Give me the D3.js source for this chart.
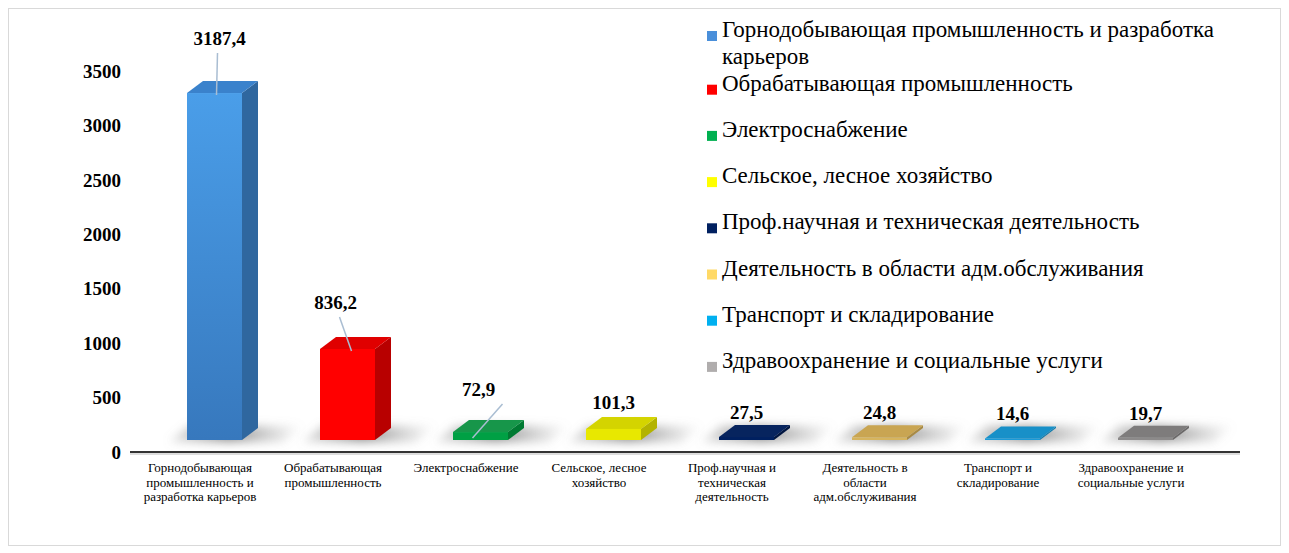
<!DOCTYPE html>
<html>
<head>
<meta charset="utf-8">
<script src="https://cdn.jsdelivr.net/npm/d3@7"></script>
<style>
  body { margin: 0; background: #fff; }
  svg { display: block; }
  text { font-family: "Liberation Serif", "Times New Roman", serif; fill: #000; }
</style>
</head>
<body>
<div id="chart"></div>
<script>
// categories (also used as legend entries)
var categories = [
    "Горнодобывающая промышленность и разработка карьеров",
    "Обрабатывающая промышленность",
    "Электроснабжение",
    "Сельское, лесное  хозяйство",
    "Проф.научная и техническая деятельность",
    "Деятельность в области адм.обслуживания",
    "Транспорт и складирование",
    "Здравоохранение и социальные услуги"
];
// values
var values = [3187.4, 836.2, 72.9, 101.3, 27.5, 24.8, 14.6, 19.7];
var yTicks = [0, 500, 1000, 1500, 2000, 2500, 3000, 3500];

// legend swatch colours and 3D bar shades
var legendColors = ["#4a8fda", "#ff0000", "#00b050", "#ffff00", "#002060", "#ffd966", "#00b0f0", "#b0adad"];
var frontColors = ["#4496e2", "#ff0000", "#00a044", "#e8e800", "#002060", "#d6b45e", "#1a9ad8", "#8c8a8a"];
var sideColors  = ["#2f679f", "#b80000", "#007a32", "#b3b300", "#001540", "#a88a44", "#117aaa", "#6a6868"];
var topColors   = ["#3a82cc", "#e00000", "#17964a", "#d4d400", "#07245e", "#c9a552", "#1890c8", "#7e7c7c"];

var width = 1289, height = 553;
var depthX = 16, depthY = 12;   // pseudo-3D offset
var barW = 55;

var svg = d3.select("#chart").append("svg")
    .attr("width", width)
    .attr("height", height);

var defs = svg.append("defs");
defs.append("filter").attr("id", "blur")
    .attr("x", "-50%").attr("y", "-100%").attr("width", "200%").attr("height", "300%")
    .append("feGaussianBlur").attr("stdDeviation", 5);
var grad = defs.append("linearGradient").attr("id", "g0")
    .attr("x1", 0).attr("y1", 0).attr("x2", 0).attr("y2", 1);
grad.append("stop").attr("offset", "0%").attr("stop-color", "#4a9ee9");
grad.append("stop").attr("offset", "100%").attr("stop-color", "#3778bd");
var shGrad = defs.append("linearGradient").attr("id", "sh")
    .attr("x1", 0).attr("y1", 0).attr("x2", 1).attr("y2", 0);
shGrad.append("stop").attr("offset", "0%").attr("stop-color", "#888").attr("stop-opacity", 0.2);
shGrad.append("stop").attr("offset", "45%").attr("stop-color", "#777").attr("stop-opacity", 0.8);
shGrad.append("stop").attr("offset", "100%").attr("stop-color", "#999").attr("stop-opacity", 0);

// chart frame
svg.append("rect")
    .attr("x", 8.5).attr("y", 8.5)
    .attr("width", 1272).attr("height", 537)
    .attr("fill", "none")
    .attr("stroke", "#d9d9d9");

var x = d3.scaleBand()
    .domain(categories)
    .range([133.5, 1197.5]);

var y = d3.scaleLinear()
    .domain([0, 3500])
    .range([452, 71]);

// y axis labels
svg.append("g").selectAll("text")
    .data(yTicks)
    .enter().append("text")
    .attr("x", 121)
    .attr("y", function(d) { return y(d); })
    .attr("dy", "0.35em")
    .attr("text-anchor", "end")
    .style("font-size", "19px")
    .style("font-weight", "bold")
    .text(function(d) { return d; });

// bars
var bars = svg.append("g").selectAll("g")
    .data(values)
    .enter().append("g");

function frontLeft(i) { return x(categories[i]) + x.bandwidth() / 2 - 13; }

// soft shadow under each bar, fading to the right
bars.append("path")
    .attr("d", function(d, i) {
        var x0 = frontLeft(i) - 18, x1 = frontLeft(i) + barW + depthX + 45;
        var yb = y(0) - depthY + 2, yt = y(0) - 2 * depthY - 2;
        return "M" + x0 + "," + yb + "L" + (x1 - 20) + "," + yb + "L" + x1 + "," + yt +
            "L" + (x0 + 20) + "," + yt + "Z";
    })
    .attr("fill", "url(#sh)")
    .attr("filter", "url(#blur)");

// side face
bars.append("path")
    .attr("d", function(d, i) {
        var x0 = frontLeft(i) + barW, yb = y(0) - depthY, yt = y(d) - depthY;
        return "M" + x0 + "," + yb + "L" + (x0 + depthX) + "," + (yb - depthY) +
            "L" + (x0 + depthX) + "," + (yt - depthY) + "L" + x0 + "," + yt + "Z";
    })
    .attr("fill", function(d, i) { return sideColors[i]; });

// top face
bars.append("path")
    .attr("d", function(d, i) {
        var x0 = frontLeft(i), yt = y(d) - depthY;
        return "M" + x0 + "," + yt + "L" + (x0 + depthX) + "," + (yt - depthY) +
            "L" + (x0 + barW + depthX) + "," + (yt - depthY) + "L" + (x0 + barW) + "," + yt + "Z";
    })
    .attr("fill", function(d, i) { return topColors[i]; });

// front face
bars.append("rect")
    .attr("x", function(d, i) { return frontLeft(i); })
    .attr("y", function(d) { return y(d) - depthY; })
    .attr("width", barW)
    .attr("height", function(d) { return y(0) - y(d); })
    .attr("fill", function(d, i) { return i === 0 ? "url(#g0)" : frontColors[i]; });

// floor line
svg.append("line")
    .attr("x1", 130).attr("x2", 1240)
    .attr("y1", y(0) + 2).attr("y2", y(0) + 2)
    .attr("stroke", "#bbb").attr("stroke-width", 1);
svg.append("line")
    .attr("x1", 130).attr("x2", 1240)
    .attr("y1", y(0)).attr("y2", y(0))
    .attr("stroke", "#333").attr("stroke-width", 2);

// data labels, the tall ones get a leader line
var fmt = function(v) { return d3.format(".1f")(v).replace(".", ","); };
var labelLift = [48, 40, 36, 20, 18, 18, 18, 18];
var labelShift = [5, -12, -2, 0, 0, 0, 0, 0];

bars.filter(function(d, i) { return i < 3; })
    .append("line")
    .attr("x1", function(d, i) { return frontLeft(i) + barW / 2 + labelShift[i] - [2, -4, -24][i]; })
    .attr("y1", function(d, i) { return y(d) - depthY - labelLift[i] + 8; })
    .attr("x2", function(d, i) { return frontLeft(i) + barW / 2 + [2, 4, -8][i]; })
    .attr("y2", function(d, i) { return y(d) - depthY + 2 + (i === 2 ? 4 : 0); })
    .attr("stroke", "#a9bdd2")
    .attr("stroke-width", 1.5);

bars.append("text")
    .attr("x", function(d, i) { return frontLeft(i) + barW / 2 + labelShift[i]; })
    .attr("y", function(d, i) { return y(d) - depthY - labelLift[i]; })
    .attr("text-anchor", "middle")
    .style("font-size", "19px")
    .style("font-weight", "bold")
    .text(function(d) { return fmt(d); });

// category labels under the floor, wrapped
function wrap(sel, maxW, lineH) {
    sel.each(function(txt) {
        var t = d3.select(this), words = txt.split(/\s+/), line = [];
        var x0 = t.attr("x");
        var ts = t.text(null).append("tspan").attr("x", x0).attr("dy", 0);
        words.forEach(function(w) {
            line.push(w);
            ts.text(line.join(" "));
            if (ts.node().getComputedTextLength() > maxW && line.length > 1) {
                line.pop();
                ts.text(line.join(" "));
                line = [w];
                ts = t.append("tspan").attr("x", x0).attr("dy", lineH).text(w);
            }
        });
    });
}

svg.append("g").selectAll("text")
    .data(categories)
    .enter().append("text")
    .attr("x", function(d) { return x(d) + x.bandwidth() / 2; })
    .attr("y", 472)
    .attr("text-anchor", "middle")
    .style("font-size", "13px")
    .text(function(d) { return d; })
    .call(wrap, 122, 14.5);

// legend (first entry wraps to two lines, so it sits a little higher)
var legend = svg.append("g").selectAll("g")
    .data(categories)
    .enter().append("g")
    .attr("transform", function(d, i) {
        return "translate(707," + (i === 0 ? 37 : 44.5 + 46.2 * i) + ")";
    });

legend.append("rect")
    .attr("x", 0).attr("y", -6)
    .attr("width", 10).attr("height", 10)
    .attr("fill", function(d, i) { return legendColors[i]; });

legend.append("text")
    .attr("x", 15)
    .attr("y", 0)
    .attr("dy", "0.35em")
    .style("font-size", "23px")
    .text(function(d) { return d; })
    .call(wrap, 530, 27);
</script>
</body>
</html>
